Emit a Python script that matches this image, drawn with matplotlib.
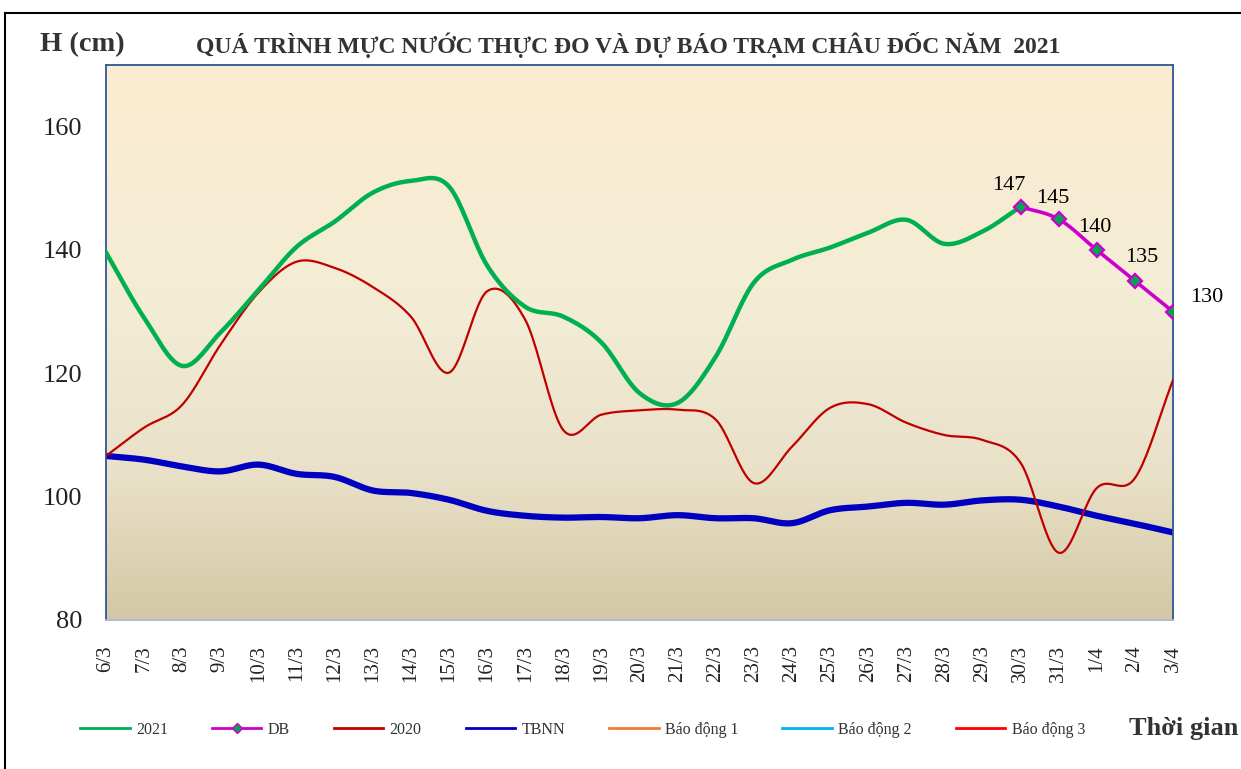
import numpy as np
import matplotlib
matplotlib.use('Agg')
import matplotlib.pyplot as plt
from matplotlib.lines import Line2D

plt.rcParams['font.family'] = ['Liberation Serif', 'DejaVu Serif']

# ngay
dates = ['6/3', '7/3', '8/3', '9/3', '10/3', '11/3', '12/3', '13/3', '14/3', '15/3',
         '16/3', '17/3', '18/3', '19/3', '20/3', '21/3', '22/3', '23/3', '24/3', '25/3',
         '26/3', '27/3', '28/3', '29/3', '30/3', '31/3', '1/4', '2/4', '3/4']
# muc nuoc 2021 (thuc do, den 30/3)
h2021 = [139.6, 129.0, 121.2, 126.6, 133.5, 140.5, 144.6, 149.3, 151.2, 150.3,
         137.5, 130.8, 129.2, 125.0, 116.8, 115.2, 122.7, 134.7, 138.4, 140.4,
         142.8, 144.9, 141.0, 143.0, 147.0]
# du bao
db_idx = [24, 25, 26, 27, 28]
db_val = [147, 145, 140, 135, 130]
# nam 2020
h2020 = [106.6, 111.2, 114.9, 124.6, 133.1, 138.1, 137.1, 134.0, 129.2, 120.1,
         133.3, 128.7, 110.8, 113.3, 114.0, 114.1, 112.5, 102.2, 108.1, 114.4,
         115.0, 112.0, 110.0, 109.2, 105.5, 90.9, 101.4, 103.0, 118.9]
# trung binh nhieu nam
tbnn = [106.6, 106.0, 104.9, 104.1, 105.2, 103.7, 103.2, 101.0, 100.6, 99.5,
        97.7, 96.9, 96.6, 96.7, 96.5, 97.0, 96.5, 96.5, 95.7, 97.8,
        98.4, 99.0, 98.7, 99.4, 99.5, 98.4, 96.9, 95.6, 94.2]


def smooth(x, y, n=20):
    # duong cong kieu Catmull-Rom giong Excel
    x = np.asarray(x, float)
    y = np.asarray(y, float)
    if len(x) < 3:
        return x, y
    mx = np.gradient(x)
    my = np.empty_like(y)
    my[1:-1] = (y[2:] - y[:-2]) / 2
    my[0] = y[1] - y[0]
    my[-1] = y[-1] - y[-2]
    xs, ys = [], []
    t = np.linspace(0, 1, n, endpoint=False)
    h00 = 2 * t**3 - 3 * t**2 + 1
    h10 = t**3 - 2 * t**2 + t
    h01 = -2 * t**3 + 3 * t**2
    h11 = t**3 - t**2
    for i in range(len(x) - 1):
        xs.append(h00 * x[i] + h10 * mx[i] + h01 * x[i + 1] + h11 * mx[i + 1])
        ys.append(h00 * y[i] + h10 * my[i] + h01 * y[i + 1] + h11 * my[i + 1])
    xs.append([x[-1]])
    ys.append([y[-1]])
    return np.concatenate(xs), np.concatenate(ys)


fig = plt.figure(figsize=(12.41, 7.69), dpi=100)
ax = fig.add_axes([106 / 1241, 1 - 620 / 769, (1173 - 106) / 1241, (620 - 65) / 769])

# nen gradient
stops = [0.0, 0.25, 0.55, 1.0]
cols = np.array([[211, 199, 164], [232, 224, 199], [243, 236, 214], [252, 237, 209]]) / 255
g = np.linspace(0, 1, 256)
grad = np.stack([np.interp(g, stops, cols[:, k]) for k in range(3)], axis=1)[:, None, :]
ax.imshow(grad, extent=[0, len(dates) - 1, 80, 170], origin='lower', aspect='auto', zorder=0)

xi = np.arange(len(dates))
x, y = smooth(xi, tbnn)
ax.plot(x, y, color='#0000C0', lw=4.5, solid_capstyle='butt', zorder=2)
x, y = smooth(xi, h2020)
ax.plot(x, y, color='#C00000', lw=1.6, zorder=3)
x, y = smooth(xi[:len(h2021)], h2021)
ax.plot(x, y, color='#00B050', lw=3.2, zorder=4)
x, y = smooth(db_idx, db_val)
ax.plot(x, y, color='#CC00CC', lw=2.6, zorder=5)
ax.plot(db_idx, db_val, ls='none', marker='D', ms=7, mfc='#00A550', mec='#CC00CC', mew=1.6, zorder=6)

offs = [(-12, 21), (-6, 21), (-2, 22), (7, 23), (34, 14)]
for i, v, o in zip(db_idx, db_val, offs):
    ax.annotate(str(v), (i, v), xytext=o, textcoords='offset pixels',
                ha='center', va='center', fontsize=16, color='black', zorder=7)

ax.set_xlim(0, len(dates) - 1)
ax.set_ylim(80, 170)
ax.set_yticks([80, 100, 120, 140, 160])
ax.set_xticks(xi)
ax.set_xticklabels(dates, rotation=90)
ax.tick_params(axis='y', length=0, pad=17, labelsize=19, labelcolor='#222222')
ax.tick_params(axis='x', length=0, pad=18, labelsize=15, labelcolor='#222222')
for s in ['left', 'right', 'top']:
    ax.spines[s].set_color('#2F5597')
    ax.spines[s].set_linewidth(1.3)
ax.spines['bottom'].set_color('#A9B7CF')
ax.spines['bottom'].set_linewidth(1.3)

fig.text(40 / 1241, 1 - 45 / 769, 'H (cm)', fontsize=20.5, fontweight='bold', color='#333333', va='center')
fig.text(628 / 1241, 1 - 45 / 769, 'QUÁ TRÌNH MỰC NƯỚC THỰC ĐO VÀ DỰ BÁO TRẠM CHÂU ĐỐC NĂM  2021',
         fontsize=17, fontweight='bold', color='#333333', ha='center', va='center')
fig.text(1238 / 1241, 1 - 729 / 769, 'Thời gian', fontsize=19, fontweight='bold', color='#333333',
         ha='right', va='center')

# khung ngoai
fig.add_artist(Line2D([5 / 1241, 5 / 1241], [0, 1 - 13 / 769], transform=fig.transFigure, color='black', lw=1.5))
fig.add_artist(Line2D([5 / 1241, 1], [1 - 13 / 769, 1 - 13 / 769], transform=fig.transFigure, color='black', lw=1.5))

handles = [
    Line2D([], [], color='#00B050', lw=2),
    Line2D([], [], color='#CC00CC', lw=2, marker='D', ms=5, mfc='#00A550', mec='#CC00CC'),
    Line2D([], [], color='#C00000', lw=2),
    Line2D([], [], color='#0000C0', lw=2),
    Line2D([], [], color='#ED7D31', lw=2),
    Line2D([], [], color='#00B0F0', lw=2),
    Line2D([], [], color='#FF0000', lw=2),
]
labels = ['2021', 'DB', '2020', 'TBNN', 'Báo động 1', 'Báo động 2', 'Báo động 3']
fig.legend(handles, labels, loc='center left', bbox_to_anchor=(80 / 1241, 1 - 730 / 769), ncol=7,
           frameon=False, fontsize=11.5, handlelength=3.1, handletextpad=0.4, columnspacing=2.75,
           borderpad=0, borderaxespad=0, labelcolor='#333333')

fig.savefig('out.png', dpi=100)
